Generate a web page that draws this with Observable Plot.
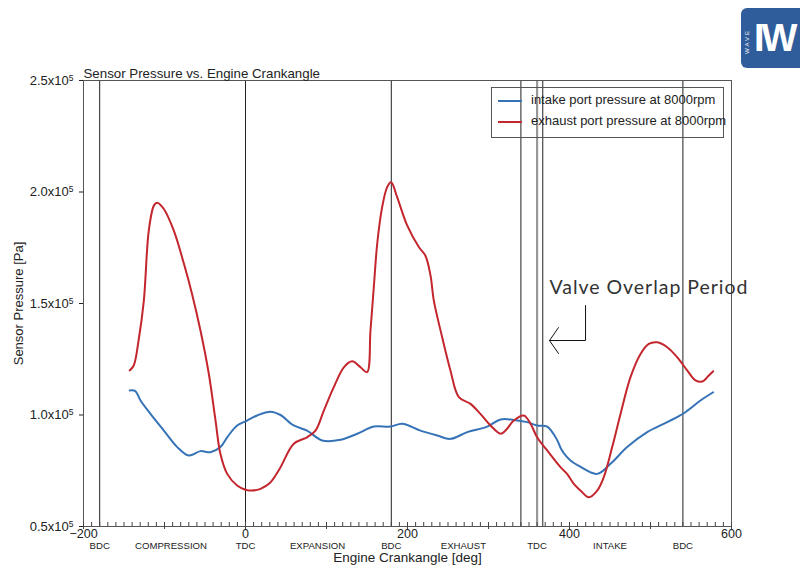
<!DOCTYPE html>
<html>
<head>
<meta charset="utf-8">
<script src="https://cdn.jsdelivr.net/npm/d3@7"></script>
<script src="https://cdn.jsdelivr.net/npm/@observablehq/plot@0.6"></script>
<style>
  html, body { margin: 0; padding: 0; background: #fff; }
  #wrap { position: relative; width: 800px; height: 566px; overflow: hidden; }
  #legend { position: absolute; left: 491px; top: 87px; width: 231px; height: 49px;
    border: 1px solid #555; font-family: "Liberation Sans", Arial, sans-serif; font-size: 13px; color: #222; }
  .row { position: absolute; left: 0; height: 14px; }
  .sw { position: absolute; left: 6px; width: 24px; height: 0; border-top: 2px solid; }
  .lt { position: absolute; left: 39px; top: -8px; white-space: nowrap; }
  #logo { position: absolute; left: 741px; top: 8px; width: 70px; height: 60px; background: #2f5d9b;
    border-radius: 6px; color: #fff; font-family: "Liberation Sans", Arial, sans-serif; }
  #logo .big { position: absolute; left: 13px; top: 9px; font-size: 38px; font-weight: bold; letter-spacing: -3px; }
  #logo .small { position: absolute; left: 3px; top: 46px; font-size: 6px; transform: rotate(-90deg); transform-origin: left top; letter-spacing: 2px; }
</style>
</head>
<body>
<div id="wrap"></div>
<script>
// ---- data ----
const exhaustAngle = [-143,-138,-132,-125.5,-119.4,-113,-109,-101,-88.5,-76,-66,-55.6,-45.3,-37,-31,-22.6,-10.3,0,8,18.5,30,42,59.6,76,86.4,96.7,109,121.4,131.7,142,150,154.3,158.4,162.6,168.7,174.9,179.8,187.2,199.6,214,222,228.4,232.5,242.8,253,263.4,277.8,290,302.5,314.8,321,331.2,343.6,351.9,360,372.5,388.9,397,405.3,413.6,423.8,434.2,442.3,452.7,463,475.3,487.7,497.9,508.3,520.6,533,545.3,555.6,563.8,572,577.4];
const exhaustPressure = [120000,122200,133400,151300,182700,194000,195200,192500,182700,167800,154300,137900,118500,97500,82600,73600,68400,66500,66100,66900,69500,75800,87100,90000,93000,102000,112500,121400,124100,121400,119200,137900,157300,176800,193200,202200,204400,197700,185000,175300,171500,162600,151300,134900,120000,108000,105000,100500,95300,91600,93000,97500,99800,96100,90000,84100,76600,73600,69100,66100,63100,66100,72100,85600,100500,117000,127400,131900,132600,130400,125900,120000,115500,115000,117700,119600];
const intakeAngle = [-143,-136,-129.6,-117.3,-100.8,-84.3,-70,-55.6,-43.2,-31,-22.6,-10.3,2,14.4,30.9,43.2,59.6,76,94.6,117.3,137.9,158.4,179,193.4,216,236.7,253,273.7,298.4,314.8,331.2,347.8,360,372.5,385,390,397,404,411,434.2,450.6,471.2,495.9,520.6,541.2,561.7,577.4];
const intakePressure = [111000,110700,106500,100500,93000,85600,81800,83800,83300,85600,90000,95300,97500,99800,101500,100000,95300,93000,88600,88900,91600,94800,94800,96100,93000,90800,89300,92300,94800,98000,97800,96800,95300,94800,88600,84500,81100,78800,77300,73600,78100,85600,92300,96800,100800,106500,110200];

const markerAngles = [-180, 0, 180, 340, 360, 367, 540];
const markerStyle   = ["solid","solid","solid","solid","grey","solid","solid"];
const phaseAngles = [-180, -92, 0, 89, 180, 269, 360, 450, 540];
const phaseLabels = ["BDC","COMPRESSION","TDC","EXPANSION","BDC","EXHAUST","TDC","INTAKE","BDC"];
const xTickLabels = [-200, 0, 200, 400, 600];
const yTickValues = [50000, 100000, 150000, 200000, 250000];

const seriesNames = ["intake port pressure at 8000rpm", "exhaust port pressure at 8000rpm"];
const seriesColors = ["#3573b6", "#c4262e"];

const titleText = "Sensor Pressure vs. Engine Crankangle";
const xLabel = "Engine Crankangle [deg]";
const yLabel = "Sensor Pressure [Pa]";

// annotation (in data coordinates)
const noteText = "Valve Overlap Period";
const noteAnchor = {deg: 375.3, p: 156950};
const notePath = [{deg: 419.8, p: 149100}, {deg: 419.8, p: 133400}, {deg: 375.3, p: 133400}];
const noteHead = [{deg: 386.4, p: 139200}, {deg: 375.3, p: 133400}, {deg: 386.4, p: 127600}];

// ---- build tables ----
const exhaust = exhaustAngle.map((d, i) => ({deg: d, p: exhaustPressure[i]}));
const intake = intakeAngle.map((d, i) => ({deg: d, p: intakePressure[i]}));
const markers = markerAngles.map((d, i) => ({deg: d, kind: markerStyle[i]}));
const phases = phaseAngles.map((d, i) => ({deg: d, label: phaseLabels[i]}));

const mantissa = d => (d / 1e5).toFixed(1) + "x10";
const textColor = "#222";

const plot = Plot.plot({
  width: 800,
  height: 566,
  marginLeft: 83,
  marginRight: 69,
  marginTop: 80,
  marginBottom: 40,
  style: {fontFamily: "'Liberation Sans', Arial, sans-serif", fontSize: "13px", background: "transparent", color: textColor},
  x: {domain: [-200, 600]},
  y: {domain: [50000, 250000]},
  marks: [
    Plot.ruleX(markers.filter(d => d.kind === "solid"), {x: "deg", stroke: "#222", strokeWidth: 1}),
    Plot.ruleX(markers.filter(d => d.kind === "grey"), {x: "deg", stroke: "#999", strokeWidth: 2.2}),
    Plot.frame({stroke: "#555", strokeWidth: 1}),
    Plot.line(intake, {x: "deg", y: "p", stroke: seriesColors[0], strokeWidth: 2, curve: "catmull-rom"}),
    Plot.line(exhaust, {x: "deg", y: "p", stroke: seriesColors[1], strokeWidth: 2, curve: "catmull-rom"}),
    // y axis
    Plot.axisY({ticks: yTickValues, tickFormat: mantissa, tickSize: 4, tickPadding: 6, label: null, fontSize: 13}),
    // x axis minor / major ticks (inward)
    Plot.axisX(d3.range(-200, 601, 10), {tickSize: 4, dy: -4, tickFormat: () => "", label: null, stroke: "#444"}),
    Plot.axisX(d3.range(-200, 601, 100), {tickSize: 7, dy: -4, tickFormat: () => "", label: null, stroke: "#444"}),
    Plot.axisX(xTickLabels, {tickSize: 0, tickPadding: 2.5, label: null, fontSize: 12.5}),
    // phase labels
    Plot.text(phases, {x: "deg", text: "label", frameAnchor: "bottom", dy: 22.5, fontSize: 9.6, fill: textColor}),
    // axis titles
    Plot.text([xLabel], {frameAnchor: "bottom", dy: 35, fontSize: 13.5, fill: textColor}),
    Plot.text([yLabel], {frameAnchor: "left", dx: -65, rotate: -90, textAnchor: "middle", fontSize: 13, fill: textColor}),
    Plot.text([titleText], {frameAnchor: "top-left", dy: -12, textAnchor: "start", fontSize: 13.3, fill: textColor}),
    // annotation
    Plot.line(notePath, {x: "deg", y: "p", stroke: "#111", strokeWidth: 1}),
    Plot.line(noteHead, {x: "deg", y: "p", stroke: "#111", strokeWidth: 1}),
    Plot.text([noteAnchor], {x: "deg", y: "p", text: () => noteText, textAnchor: "start", fontSize: 19.5,
      fontFamily: "Lato, 'Open Sans', sans-serif", fill: "#333"})
  ]
});

// superscript exponent on y tick labels, stretch annotation text to reference width
d3.select(plot).selectAll("g[aria-label='y-axis tick label'] text").each(function () {
  const t = d3.select(this);
  t.append("tspan").attr("dy", "-0.45em").attr("font-size", "8.5px").text("5");
});
d3.select(plot).selectAll("text").filter(function () { return this.textContent === noteText; })
  .attr("textLength", 198).attr("lengthAdjust", "spacing");

const wrap = document.getElementById("wrap");
wrap.appendChild(plot);

// legend
const legend = document.createElement("div");
legend.id = "legend";
seriesNames.forEach((name, i) => {
  const row = document.createElement("div");
  row.className = "row";
  row.style.top = (12 + i * 21) + "px";
  const sw = document.createElement("div");
  sw.className = "sw";
  sw.style.borderColor = seriesColors[i];
  const lt = document.createElement("div");
  lt.className = "lt";
  lt.textContent = name;
  row.appendChild(sw); row.appendChild(lt);
  legend.appendChild(row);
});
wrap.appendChild(legend);

// logo
const logo = document.createElement("div");
logo.id = "logo";
logo.innerHTML = '<span class="small">WAVE</span><span class="big">IW</span>';
wrap.appendChild(logo);
plot.style.position = "absolute";
plot.style.left = "0";
plot.style.top = "0";
</script>
</body>
</html>
